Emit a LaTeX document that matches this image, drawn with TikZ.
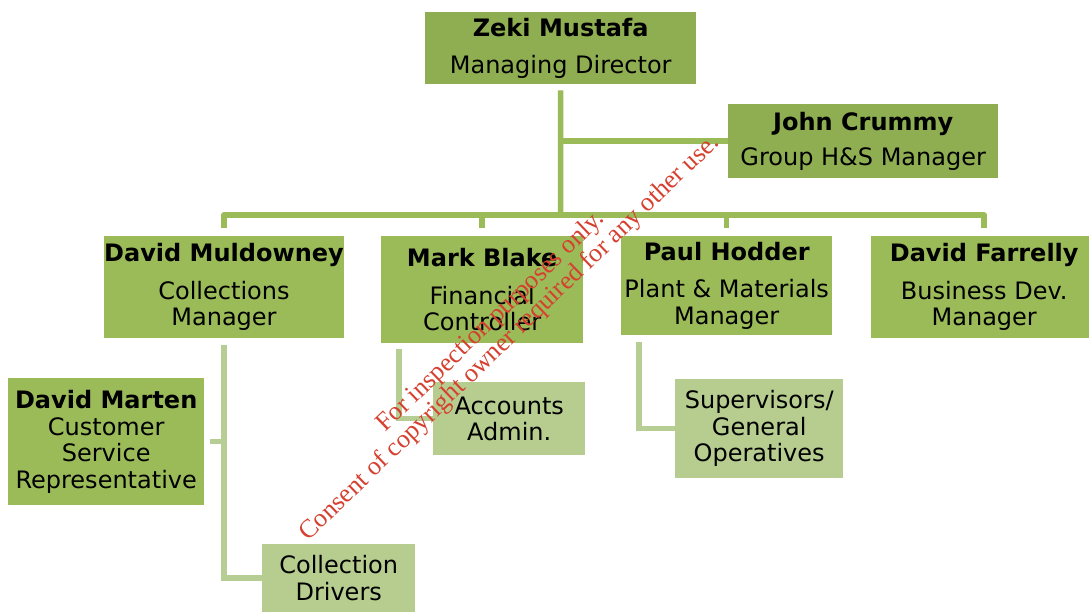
\documentclass[tikz,border=0pt]{standalone}
\usepackage{fontspec}
\setmainfont{DejaVu Sans}
\newfontfamily\wmfont{Liberation Serif}
\definecolor{topgreen}{HTML}{8FAE52}
\definecolor{boxgreen}{HTML}{9BBB59}
\definecolor{lightgreen}{HTML}{B6CD8F}
\definecolor{linegreen}{HTML}{9BBB59}
\definecolor{sublinegreen}{HTML}{B6CD93}
\definecolor{wmred}{HTML}{D5402F}
\begin{document}
\begin{tikzpicture}[x=1pt,y=-1pt,
  box/.style={rectangle, inner sep=0pt, anchor=north west, align=center,
    font=\fontsize{24}{26.5}\selectfont, text=black},
  topbox/.style={box, fill=topgreen},
  mgrbox/.style={box, fill=boxgreen},
  subbox/.style={box, fill=lightgreen},
  mainline/.style={draw=linegreen, line width=5.5pt},
  subline/.style={draw=sublinegreen, line width=5.5pt},
  wm/.style={text=wmred, font=\wmfont\fontsize{26}{28}\selectfont, rotate=44, inner sep=0pt}
]
\useasboundingbox (0,0) rectangle (1089,612);
% boxes
\node[topbox, minimum width=271pt, minimum height=72pt] (z) at (425,12)
  {\textbf{Zeki Mustafa}\\[10pt]Managing Director};
\node[topbox, minimum width=270pt, minimum height=74pt] (jc) at (728,104)
  {\textbf{John Crummy}\\[9pt]Group H\&S Manager};
\node[mgrbox, minimum width=239pt, minimum height=102pt] (dm) at (104,236)
  {\textbf{David Muldowney}\\[11pt]Collections\\Manager};
\node[mgrbox, minimum width=202pt, minimum height=107pt] (mb) at (381,236)
  {\textbf{Mark Blake}\\[11pt]Financial\\Controller};
\node[mgrbox, minimum width=211pt, minimum height=99pt] (ph) at (621,236)
  {\textbf{Paul Hodder}\\[11pt]Plant \& Materials\\Manager};
\node[mgrbox, minimum width=226pt, minimum height=102pt] (df) at (871,236)
  {\textbf{David Farrelly}\\[11pt]Business Dev.\\Manager};
\node[mgrbox, minimum width=196pt, minimum height=127pt] (dmar) at (8,378)
  {\textbf{David Marten}\\Customer\\Service\\Representative};
\node[subbox, minimum width=153pt, minimum height=68pt] (cd) at (262,544)
  {Collection\\Drivers};
\node[subbox, minimum width=152pt, minimum height=73pt] (aa) at (433,382)
  {Accounts\\Admin.};
\node[subbox, minimum width=168pt, minimum height=99pt] (sgo) at (675,379)
  {Supervisors/\\General\\Operatives};
% connectors
\coordinate (bus) at (560.5,215);
\draw[mainline] ([yshift=-6pt]z.south) -- (bus);
\draw[mainline] (z.south |- jc.west) -- (jc.west);
\draw[mainline, line join=round] ([yshift=8pt]dm.north) -- (dm.north |- bus) -- (df.north |- bus) -- ([yshift=8pt]df.north);
\draw[mainline] (mb.north |- bus) -- ([yshift=8pt]mb.north);
\draw[mainline] (ph.north |- bus) -- ([yshift=8pt]ph.north);
\draw[subline] ([yshift=-7pt]dm.south) |- (cd.west);
\draw[subline] ([xshift=6pt]dmar.east) -- (dmar.east -| dm.south);
\draw[subline] ([xshift=18pt,yshift=-6pt]mb.south west) |- (aa.west);
\draw[subline] ([xshift=18pt,yshift=-7pt]ph.south west) |- (sgo.west);
% watermark
\node[wm] (wm1) at (491,322) {For inspection purposes only.};
\node[wm] (wm2) at (510,338) {Consent of copyright owner required for any other use.};
\end{tikzpicture}
\end{document}
